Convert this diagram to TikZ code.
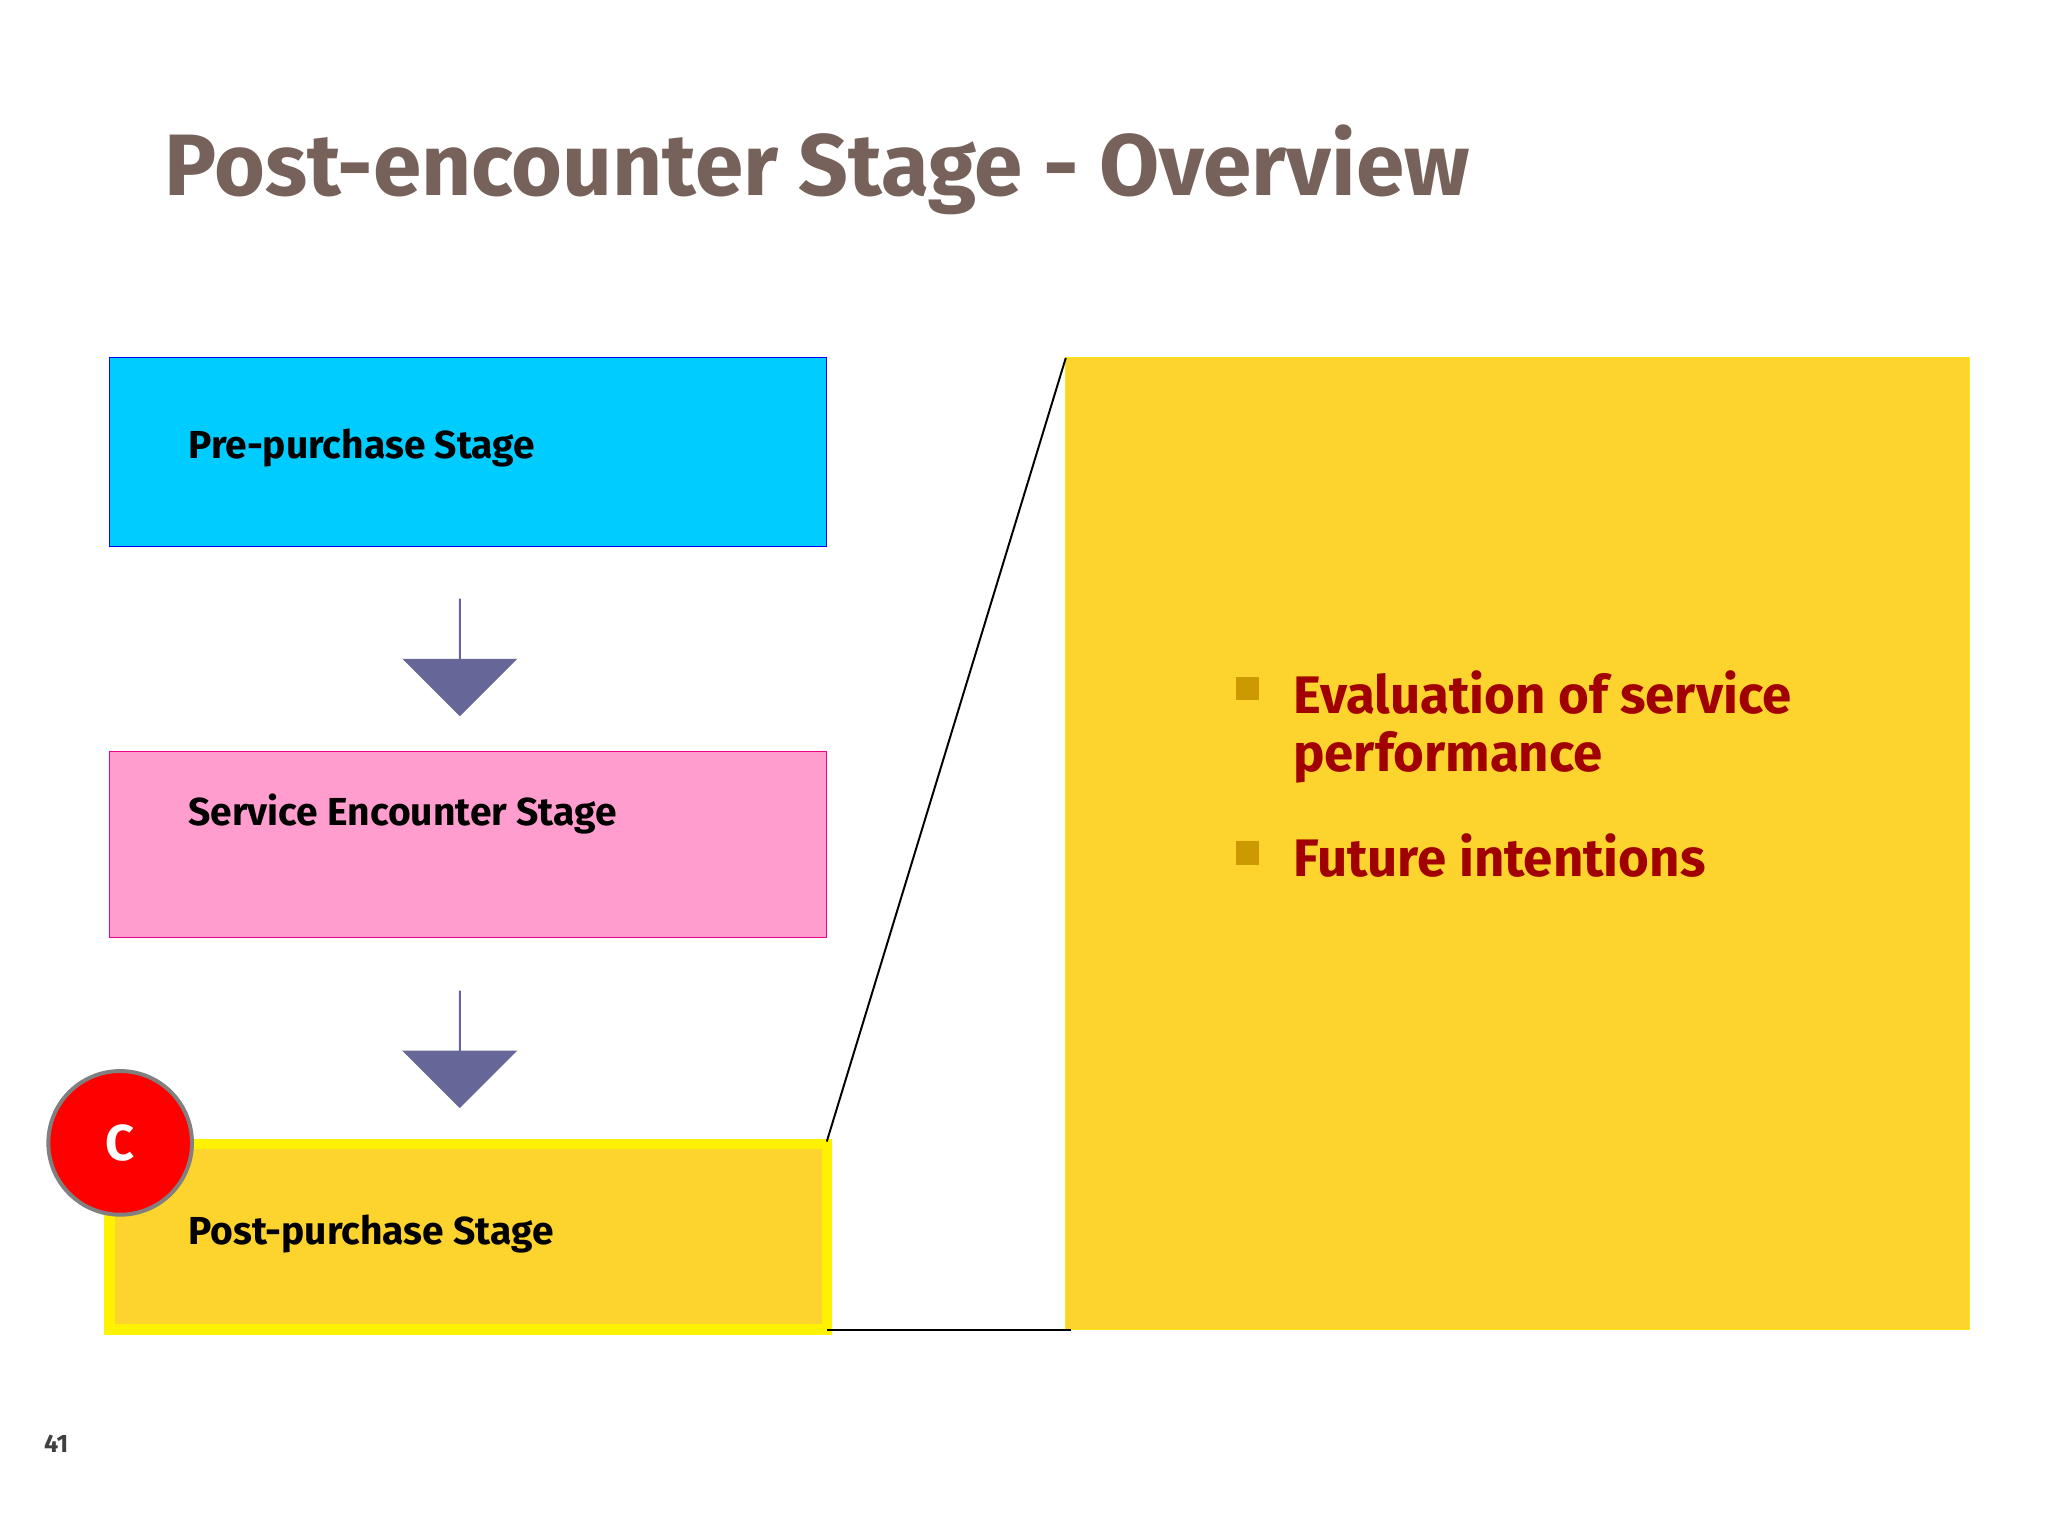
\documentclass[tikz,border=0pt]{standalone}
\usepackage{fontspec}
\setmainfont{Fira Sans}
\usetikzlibrary{shapes.arrows}
\definecolor{titlec}{RGB}{118,98,90}
\definecolor{cy}{RGB}{0,204,255}
\definecolor{pk}{RGB}{255,158,206}
\definecolor{gd}{RGB}{253,212,45}
\definecolor{arr}{RGB}{102,102,153}
\definecolor{bul}{RGB}{204,153,0}
\definecolor{rt}{RGB}{160,0,0}
\begin{document}
\begin{tikzpicture}[x=0.02cm,y=-0.02cm,
  lbl/.style={anchor=west,font=\fontsize{17}{20}\selectfont\bfseries},
  down/.style={single arrow,shape border rotate=270,fill=arr,draw=none,minimum width=88*0.02cm,single arrow head extend=0.4cm,minimum height=90*0.02cm,inner sep=0pt},
  bt/.style={anchor=west,text=rt,font=\fontsize{23}{27}\selectfont\bfseries}]
\useasboundingbox[fill=white] (0,0) rectangle (1568,1176);
\node[anchor=base west,text=titlec,font=\fontsize{38}{44}\selectfont\bfseries] (title) at (120,150) {Post-encounter Stage - Overview};
\draw[fill=cy,draw=blue] (84,274) rectangle (633,418);
\node[lbl] (b1) at (138,343) {Pre-purchase Stage};
\node[down] (a1) at (352,503) {};
\draw[fill=pk,draw=magenta] (84,575) rectangle (633,718);
\node[lbl] (b2) at (138,623) {Service Encounter Stage};
\node[down] (a2) at (352,803) {};
\draw[fill=gd,draw=yellow,line width=8*0.02cm] (84,876) rectangle (633,1018);
\node[lbl] (b3) at (138,945) {Post-purchase Stage};
\node[circle,fill=red,draw=gray,line width=0.06cm,minimum size=110*0.02cm,text=white,font=\fontsize{22}{26}\selectfont\bfseries] (c) at (92,875) {C};
\draw[fill=gd,draw=yellow!70!gd] (816,274) rectangle (1508,1018);
\coordinate (p1) at (633,874); \coordinate (p2) at (816,274);
\coordinate (p3) at (633,1018); \coordinate (p4) at (820,1018);
\draw[line width=0.03cm] (p1) -- (p2);
\draw[line width=0.03cm] (p3) -- (p4);
\fill[bul] (946,518) rectangle (964,536);
\fill[bul] (946,644) rectangle (964,662);
\node[bt] (t1) at (984,530) {Evaluation of service};
\node[bt] (t2) at (984,580) {performance};
\node[bt] (t3) at (984,655) {Future intentions};
\node[text=black!75,font=\fontsize{11}{13}\selectfont\bfseries] (n) at (43,1105) {41};
\end{tikzpicture}
\end{document}
